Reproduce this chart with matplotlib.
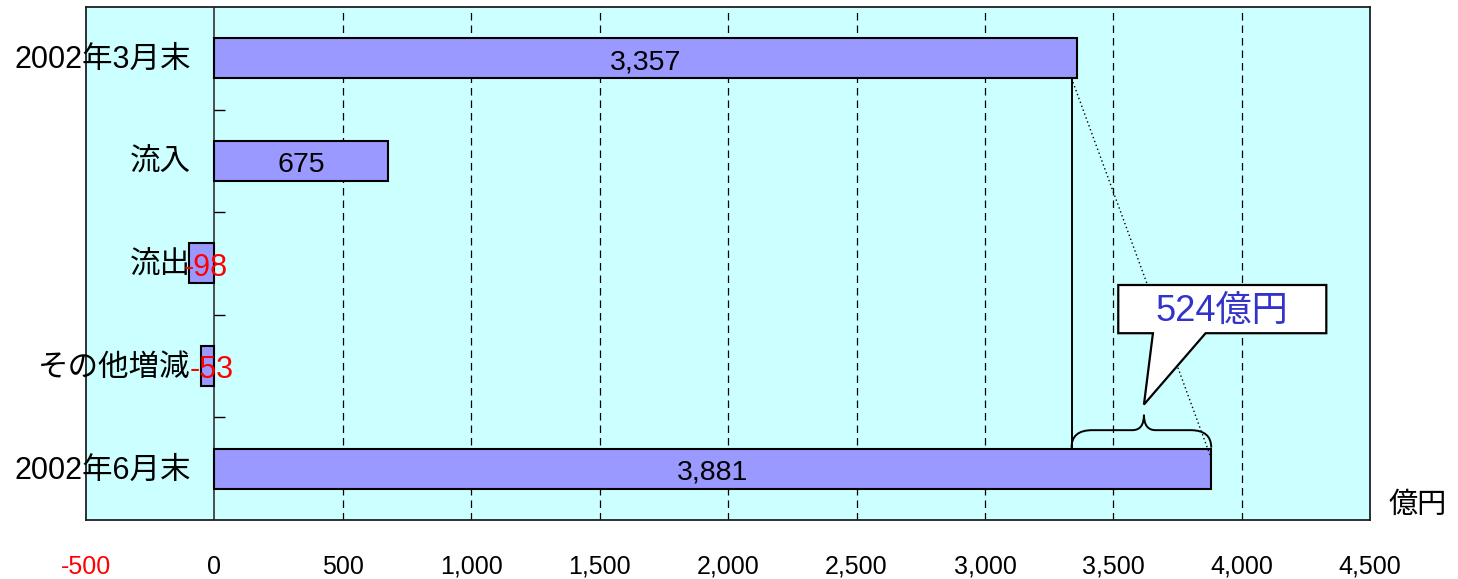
import matplotlib.pyplot as plt
from matplotlib import font_manager
from matplotlib.path import Path
from matplotlib.patches import PathPatch, Polygon

# data
categories = ['2002年3月末', '流入', '流出', 'その他増減', '2002年6月末']
values = [3357, 675, -98, -53, 3881]
xticks = [-500, 0, 500, 1000, 1500, 2000, 2500, 3000, 3500, 4000, 4500]
unit = '億円'

names = {f.name for f in font_manager.fontManager.ttflist}
narrow = 'Liberation Sans Narrow' if 'Liberation Sans Narrow' in names else 'Liberation Sans'
plt.rcParams['font.family'] = ['Liberation Sans', 'Noto Sans CJK JP', 'DejaVu Sans']

bg = '#CCFFFF'
barc = '#9999FF'

fig = plt.figure(figsize=(14.58, 5.79), dpi=100)
ax = fig.add_axes([0.059, 0.102, 0.8808, 0.886])
ax.set_facecolor(bg)

ypos = list(range(len(categories)))
bh = 0.39
ax.barh(ypos, values, height=bh, color=barc, edgecolor='black', linewidth=1.5, zorder=3)

ax.set_xlim(-500, 4500)
ax.set_ylim(len(categories) - 0.5, -0.5)

# grid
for x in xticks[2:-1]:
    ax.axvline(x, color='black', lw=0.9, ls=(0, (6, 4)), zorder=1)
ax.axvline(0, color='#404040', lw=1.3, zorder=2)
for b in [0.5, 1.5, 2.5, 3.5]:
    ax.hlines(b, 0, 40, color='black', lw=1, zorder=2)

ax.set_yticks([])
ax.set_xticks(xticks)
ax.set_xticklabels([f'{v:,}' for v in xticks], fontsize=18, family=narrow)
ax.get_xticklabels()[0].set_color('red')
ax.tick_params(axis='x', length=0, pad=25)
for s in ax.spines.values():
    s.set_linewidth(1.3)
    s.set_color('#202020')

# category labels and values
for i, (c, v) in enumerate(zip(categories, values)):
    ax.text(-93, i + 0.02, c, ha='right', va='center', fontsize=22)
    if v < 0:
        ax.text(v / 2 + 15, i + 0.04, f'{v:,}', ha='center', va='center',
                fontsize=22, color='red', zorder=4)
    else:
        ax.text(v / 2, i + 0.04, f'{v:,}', ha='center', va='center',
                fontsize=20.5, color='black', zorder=4)

# difference annotation
x0, x1 = values[0], values[-1]
diff = x1 - x0
xm = (x0 + x1) / 2
yb = len(categories) - 1 - bh / 2 - 0.01
ymid = yb - 0.17
ytip = yb - 0.32
ax.plot([x0 - 20, x0 - 20], [bh / 2, yb], color='black', lw=1.4, zorder=4)
ax.plot([x0 - 20, x1], [bh / 2, len(categories) - 1 - 0.1], color='black', lw=1,
        ls=(0, (1, 2)), zorder=4)

r = 80
rm = 45
xl = x0 - 20
verts = [(xl, yb), (xl, ymid), (xl + r, ymid),
         (xm - rm, ymid), (xm, ymid), (xm, ytip),
         (xm, ymid), (xm + rm, ymid),
         (x1 - r, ymid), (x1, ymid), (x1, yb)]
codes = [Path.MOVETO, Path.CURVE3, Path.CURVE3,
         Path.LINETO, Path.CURVE3, Path.CURVE3,
         Path.CURVE3, Path.CURVE3,
         Path.LINETO, Path.CURVE3, Path.CURVE3]
ax.add_patch(PathPatch(Path(verts, codes), fill=False, lw=1.4, zorder=4))

# callout box
bx0, bx1 = xm - 100, xm + 710
by0, by1 = 2.21, 2.68
tip = (xm, ytip - 0.1)
callout = [(bx0, by0), (bx1, by0), (bx1, by1), (xm + 240, by1), tip,
           (xm + 35, by1), (bx0, by1)]
ax.add_patch(Polygon(callout, closed=True, facecolor='white', edgecolor='black',
                     lw=1.6, zorder=5))
ax.text((bx0 + bx1) / 2, (by0 + by1) / 2 + 0.02, f'{diff}{unit}', ha='center',
        va='center', fontsize=26, color='#3333CC', zorder=6)

fig.text(0.9726, 0.128, unit, ha='center', va='center', fontsize=21)

fig.savefig('out.png', dpi=100)
